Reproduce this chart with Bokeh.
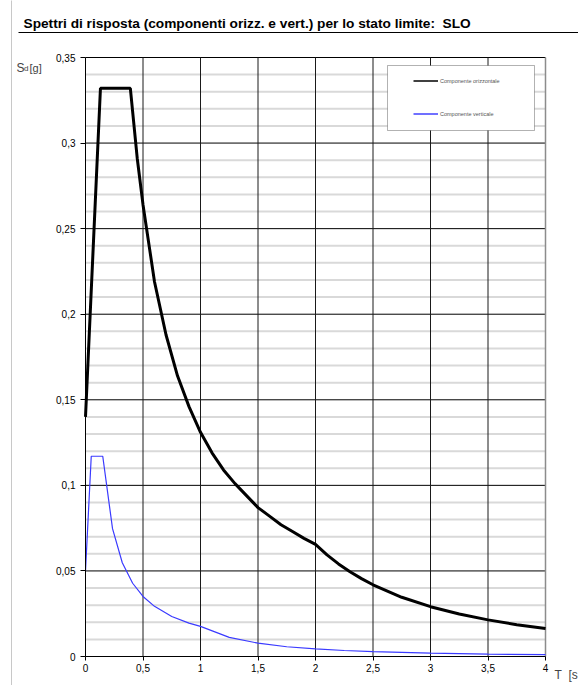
from bokeh.plotting import figure
from bokeh.models import (Label, BoxAnnotation, Legend, LegendItem, FixedTicker, Range1d)
from bokeh.embed import file_html
from bokeh.resources import INLINE

# Horizontal component (Componente orizzontale)
t_h = [0.0, 0.13, 0.39, 0.45, 0.5, 0.6, 0.7, 0.8, 0.9, 1.0, 1.1, 1.2, 1.3, 1.4, 1.5, 1.6, 1.7,
       1.8, 1.9, 2.0, 2.1, 2.2, 2.3, 2.4, 2.5, 2.75, 3.0, 3.25, 3.5, 3.75, 4.0]
sd_h = [0.140, 0.332, 0.332, 0.291, 0.264, 0.219, 0.188, 0.164, 0.146, 0.131, 0.119, 0.109,
        0.101, 0.094, 0.087, 0.082, 0.077, 0.073, 0.069, 0.0655, 0.0594, 0.0541, 0.0495,
        0.0455, 0.0419, 0.0346, 0.0291, 0.0248, 0.0214, 0.0186, 0.0164]

# Vertical component (Componente verticale)
t_v = [0.0, 0.05, 0.15, 0.235, 0.32, 0.41, 0.5, 0.6, 0.75, 0.9, 1.0, 1.25, 1.5, 1.75, 2.0,
       2.25, 2.5, 3.0, 3.5, 4.0]
sd_v = [0.050, 0.117, 0.117, 0.0747, 0.0548, 0.0428, 0.0351, 0.0293, 0.0234, 0.0195, 0.0176,
        0.0112, 0.0078, 0.0057, 0.0044, 0.0035, 0.0028, 0.0020, 0.0014, 0.0011]

x_ticks = [0, 0.5, 1, 1.5, 2, 2.5, 3, 3.5, 4]
x_labels = ["0", "0,5", "1", "1,5", "2", "2,5", "3", "3,5", "4"]
y_ticks = [0, 0.05, 0.1, 0.15, 0.2, 0.25, 0.3, 0.35]
y_labels = ["0", "0,05", "0,1", "0,15", "0,2", "0,25", "0,3", "0,35"]
y_minor = [round(0.01 * i, 2) for i in range(1, 35) if i % 5 != 0]

title_text = "Spettri di risposta (componenti orizz. e vert.) per lo stato limite: \u00a0SLO"
series_names = ["Componente orizzontale", "Componente verticale"]

FONT = "Liberation Sans"

# page geometry (pixels) -> data units helpers
W, H = 578, 685
X0_PX, X4_PX = 85.0, 545.0
Y0_PX, Y35_PX = 656.0, 57.0
XS = (X4_PX - X0_PX) / 4.0
YS = (Y0_PX - Y35_PX) / 0.35


def xd(px):
    return (px - X0_PX) / XS


def yd(py):
    return (Y0_PX - py) / YS


p = figure(width=W, height=H, x_range=Range1d(xd(0), xd(W)), y_range=Range1d(yd(H), yd(0)),
           output_backend="svg", toolbar_location=None,
           min_border_left=0, min_border_right=0, min_border_top=0, min_border_bottom=0)
p.outline_line_color = None
p.background_fill_color = "white"
p.border_fill_color = "white"
p.grid.visible = False

# gridlines (within the plotting area 0..4, 0..0.35)
p.segment(x0=0, x1=4, y0=y_minor, y1=y_minor, line_color="#d9d9d9", line_width=2)
p.segment(x0=0, x1=4, y0=y_ticks[1:], y1=y_ticks[1:], line_color="black", line_width=1)
p.segment(x0=x_ticks[1:-1], x1=x_ticks[1:-1], y0=0, y1=0.35, line_color="#1a1a1a", line_width=1)
p.segment(x0=[4], x1=[4], y0=0, y1=0.35, line_color="#8c8c8c", line_width=1.5)

# axes fixed at the origin
p.xaxis.fixed_location = 0
p.yaxis.fixed_location = 0
p.xaxis.bounds = (0, 4)
p.yaxis.bounds = (0, 0.35)
p.xaxis.ticker = FixedTicker(ticks=x_ticks)
p.yaxis.ticker = FixedTicker(ticks=y_ticks)
p.xaxis.major_label_overrides = dict(zip(x_ticks, x_labels))
p.yaxis.major_label_overrides = dict(zip(y_ticks, y_labels))
for ax in (p.xaxis, p.yaxis):
    ax.axis_line_color = "black"
    ax.axis_line_width = 1
    ax.major_tick_line_color = "black"
    ax.major_tick_in = 0
    ax.minor_tick_line_color = None
    ax.major_label_text_font = FONT
    ax.major_label_text_font_size = "10px"
    ax.major_label_text_color = "black"
p.yaxis.major_tick_out = 5
p.yaxis.major_label_standoff = 5
p.xaxis.major_tick_out = 4
p.xaxis.major_label_standoff = 3

# legend frame (drawn before legend)
p.add_layout(BoxAnnotation(left=xd(387), right=xd(534), top=yd(65), bottom=yd(130),
                           fill_color="white", fill_alpha=1, line_color="black", line_width=1))

# series
r_h = p.line(t_h, sd_h, line_color="black", line_width=3)
r_v = p.line(t_v, sd_v, line_color="#3a3aff", line_width=1.2)

# legend proxies
lg_h = p.line([float("nan")], [float("nan")], line_color="black", line_width=1.5)
lg_v = p.line([float("nan")], [float("nan")], line_color="#7070ff", line_width=2)
legend = Legend(items=[LegendItem(label=series_names[0], renderers=[lg_h]),
                       LegendItem(label=series_names[1], renderers=[lg_v])],
                location=(413, H - 121), orientation="vertical")
legend.border_line_color = None
legend.background_fill_alpha = 0
legend.padding = 0
legend.margin = 0
legend.spacing = 18
legend.glyph_width = 25
legend.glyph_height = 15
legend.label_height = 15
legend.label_standoff = 2
legend.label_text_font = FONT
legend.label_text_font_size = "5.5px"
legend.label_text_color = "#555555"
p.add_layout(legend)

# title and underline
p.add_layout(Label(x=xd(23), y=yd(22.5), text=title_text, text_font=FONT,
                   text_font_style="bold", text_font_size="13.7px", text_color="black",
                   text_baseline="alphabetic"))
p.add_layout(BoxAnnotation(left=xd(18), right=xd(W + 2), top=yd(31.5), bottom=yd(32.5),
                           fill_color="black", fill_alpha=1, line_color=None))
# page left border line
p.add_layout(BoxAnnotation(left=xd(10.5), right=xd(11.5), top=yd(-2), bottom=yd(H + 2),
                           fill_color="#c8c8c8", fill_alpha=1, line_color=None))

# y-axis label S_d [g]
p.add_layout(Label(x=xd(16), y=yd(67), text="S", text_font=FONT, text_font_size="12px",
                   text_baseline="alphabetic"))
p.add_layout(Label(x=xd(23.5), y=yd(67.5), text="d", text_font=FONT, text_font_size="8px",
                   text_baseline="alphabetic"))
p.add_layout(Label(x=xd(29), y=yd(67), text="[g]", text_font=FONT, text_font_size="11px",
                   text_baseline="alphabetic"))
# x-axis label (cut at the page edge in the original)
p.add_layout(Label(x=xd(554), y=yd(674), text="T\u00a0\u00a0[s", text_font=FONT,
                   text_font_size="12px", text_baseline="alphabetic"))

open("out.html", "w").write(file_html(p, INLINE))
